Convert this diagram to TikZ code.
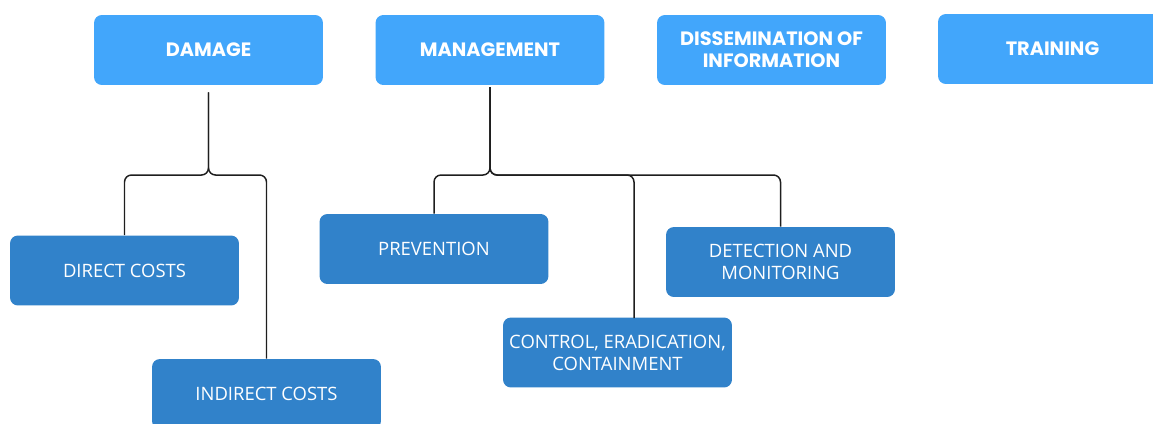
\documentclass[tikz,border=0pt]{standalone}
\usepackage{fontspec}
\setmainfont{Open Sans}
\newfontfamily\headfont{Poppins}
\usepackage{tikz}

\definecolor{topblue}{HTML}{42A6FB}
\definecolor{boxblue}{HTML}{3182CA}
\definecolor{linegray}{HTML}{1E1E1E}

\tikzset{
	head/.style={fill=topblue, rounded corners=4.5pt, minimum width=4.58cm, minimum height=1.4cm,
		align=center, text=white, font=\headfont\bfseries\fontsize{11}{12.5}\selectfont},
	sub/.style={fill=boxblue, rounded corners=4.5pt, minimum width=4.58cm, minimum height=1.4cm,
		align=center, text=white, font=\fontsize{10.5}{12.5}\selectfont},
	link/.style={draw=linegray, line width=0.85pt, rounded corners=4pt}
}

\begin{document}
\begin{tikzpicture}[x=0.02cm,y=-0.02cm]
\useasboundingbox (0,0) rectangle (1153,423);
% top row
\node[head] (damage) at (208.5,50) {DAMAGE};
\node[head] (management) at (490,50) {MANAGEMENT};
\node[head] (dissemination) at (771.5,50) {DISSEMINATION OF\\INFORMATION};
\node[head] (training) at (1052.5,49) {TRAINING};
% damage branch
\node[sub] (direct) at (124.5,270.5) {DIRECT COSTS};
\node[sub] (indirect) at (266.5,394) {INDIRECT COSTS};
% management branch
\node[sub] (prevention) at (434,249) {PREVENTION};
\node[sub] (control) at (617.5,352.5) {CONTROL, ERADICATION,\\CONTAINMENT};
\node[sub] (detection) at (780.5,262) {DETECTION AND\\MONITORING};
% junctions
\coordinate (dtop) at ([yshift=-4pt]damage.south);
\coordinate (mtop) at ([yshift=-1pt]management.south);
\coordinate (dj) at (dtop |- 0,175);
\coordinate (mj) at (mtop |- 0,175);
\coordinate (ctltop) at (634,318);
\draw[link] (dtop) -- (dj) -| (direct.north);
\draw[link] (dtop) -- (dj) -| (indirect.north);
\draw[link] (mtop) -- (mj) -| (prevention.north);
\draw[link] (mtop) -- (mj) -| (ctltop);
\draw[link] (mtop) -- (mj) -| (detection.north);
\end{tikzpicture}
\end{document}
